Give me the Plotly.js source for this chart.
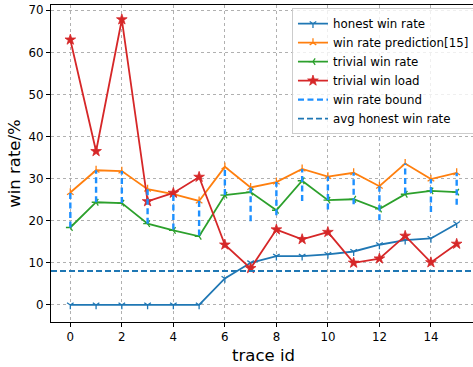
<!DOCTYPE html>
<html>
<head>
<meta charset="utf-8">
<script src="https://cdn.plot.ly/plotly-3.0.1.min.js"></script>
<style>
  html, body { margin: 0; padding: 0; overflow: hidden; background: #fff; }
  #chart { width: 476px; height: 367px; }
</style>
</head>
<body>
<div id="chart"></div>
<script>
// Win rates per trace (percent)
const traceIds = [0, 1, 2, 3, 4, 5, 6, 7, 8, 9, 10, 11, 12, 13, 14, 15];
const honestWinRate = [0, 0, 0, 0, 0, 0, 6.3, 10.0, 11.6, 11.6, 12.0, 12.7, 14.3, 15.4, 15.8, 19.3];
const winRatePrediction = [26.7, 32.0, 31.8, 27.5, 26.3, 24.7, 32.8, 27.9, 29.2, 32.3, 30.5, 31.4, 28.2, 33.6, 29.9, 31.4];
const trivialWinRate = [18.4, 24.4, 24.2, 19.3, 17.7, 16.3, 26.1, 26.8, 22.5, 29.5, 24.9, 25.1, 22.8, 26.3, 27.1, 26.8];
const trivialWinLoad = [63.0, 36.5, 67.8, 24.6, 26.6, 30.4, 14.3, 8.7, 17.9, 15.6, 17.3, 10.0, 11.0, 16.4, 10.1, 14.5];
// Lower end of the win rate bound; the upper end is the prediction
const boundLow = [18.4, 24.4, 24.2, 19.3, 17.9, 16.5, 26.1, 19.9, 21.3, 24.7, 22.7, 23.9, 20.1, 26.5, 22.1, 23.8];
const xTicks = [0, 2, 4, 6, 8, 10, 12, 14];
const yTicks = [0, 10, 20, 30, 40, 50, 60, 70];

const avgHonest = honestWinRate.reduce((a, b) => a + b, 0) / honestWinRate.length;

// vertical bound segments, one per trace, separated by gaps
const boundX = [], boundY = [];
traceIds.forEach((id, i) => {
  boundX.push(id, id, null);
  boundY.push(boundLow[i], winRatePrediction[i], null);
});

function seriesTrace(name, y, color, symbol, size, filled) {
  return {
    x: traceIds, y: y, name: name, type: 'scatter', mode: 'lines+markers',
    line: { color: color, width: 1.8 },
    marker: filled
      ? { symbol: symbol, size: size, color: color, line: { color: color, width: 0.8 } }
      : { symbol: symbol, size: size, color: color, line: { color: color, width: 1.3 } }
  };
}

const data = [
  seriesTrace('honest win rate', honestWinRate, '#1f77b4', 'y-down', 5.5, false),
  seriesTrace('win rate prediction[15]', winRatePrediction, '#ff7f0e', 'y-up', 5.5, false),
  seriesTrace('trivial win rate', trivialWinRate, '#2ca02c', 'y-left', 5.5, false),
  seriesTrace('trivial win load', trivialWinLoad, '#d62728', 'star', 8, true),
  {
    x: boundX, y: boundY, name: 'win rate bound', type: 'scatter', mode: 'lines',
    line: { color: '#1e90ff', width: 2.4, dash: '6px,3.5px' }
  },
  {
    x: [-0.75, 15.75], y: [avgHonest, avgHonest], name: 'avg honest win rate',
    type: 'scatter', mode: 'lines',
    line: { color: '#1f77b4', width: 1.8, dash: '6px,3px' }
  }
];

const axisCommon = {
  showline: true, linecolor: '#000', linewidth: 1, mirror: true,
  ticks: 'outside', ticklen: 4, tickwidth: 1, tickcolor: '#000',
  showgrid: true, gridcolor: '#b0b0b0', gridwidth: 1, griddash: 'dot',
  zeroline: false,
  tickfont: { family: 'DejaVu Sans', size: 11.8, color: '#000' }
};

const layout = {
  width: 476, height: 367,
  margin: { l: 51, r: 0, t: 5, b: 45 },
  paper_bgcolor: '#fff', plot_bgcolor: '#fff',
  font: { family: 'DejaVu Sans', color: '#000' },
  xaxis: Object.assign({}, axisCommon, {
    range: [-0.75, 15.75], tickvals: xTicks,
    title: { text: 'trace id', font: { family: 'DejaVu Sans', size: 16.5, color: '#000' }, standoff: 6 }
  }),
  yaxis: Object.assign({}, axisCommon, {
    range: [-4.05, 71.25], tickvals: yTicks,
    title: { text: 'win rate/%', font: { family: 'DejaVu Sans', size: 16.5, color: '#000' }, standoff: 3 }
  }),
  showlegend: true,
  legend: {
    x: 0.567, y: 0.99, xanchor: 'left', yanchor: 'top',
    bgcolor: 'rgba(255,255,255,0.8)', bordercolor: '#cccccc', borderwidth: 1,
    font: { family: 'DejaVu Sans', size: 11.8, color: '#000' },
    tracegroupgap: 0
  }
};

Plotly.newPlot('chart', data, layout, { displayModeBar: false, staticPlot: true });
</script>
</body>
</html>
